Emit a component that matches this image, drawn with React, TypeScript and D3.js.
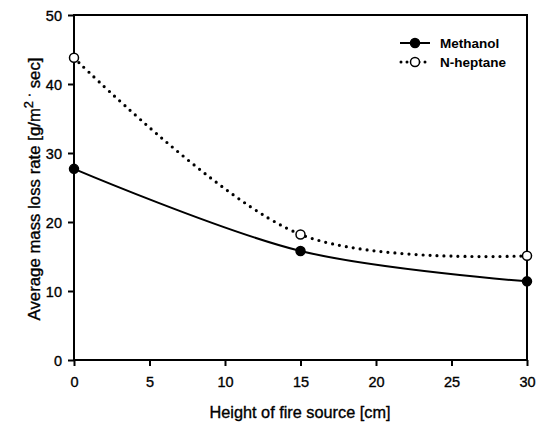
import * as d3 from "d3";
import { useEffect, useRef } from "react";

// data
const heights = [0, 15, 30];
const methanol = [27.7, 15.8, 11.4];
const heptane = [43.8, 18.2, 15.1];
const xTicks = [0, 5, 10, 15, 20, 25, 30];
const yTicks = [0, 10, 20, 30, 40, 50];
const seriesNames = ["Methanol", "N-heptane"];

const App = () => {
  const svgRef = useRef<SVGSVGElement>(null);

  useEffect(() => {
    const w = 541;
    const h = 425;
    const m = { left: 74, right: 527, top: 15, bottom: 360 };
    const font = "'Liberation Sans', Arial, sans-serif";

    const svg = d3.select(svgRef.current).attr("width", w).attr("height", h);
    svg.selectAll("*").remove();
    svg.append("rect").attr("width", w).attr("height", h).attr("fill", "white");

    const x = d3.scaleLinear().domain([0, 30]).range([m.left, m.right]);
    const y = d3.scaleLinear().domain([0, 50]).range([m.bottom, m.top]);

    // axes
    const xAxis = d3.axisBottom(x).tickValues(xTicks).tickSize(6).tickSizeOuter(0);
    const yAxis = d3.axisLeft(y).tickValues(yTicks).tickSize(6).tickSizeOuter(0);

    const gx = svg.append("g").attr("transform", `translate(0, ${m.bottom})`).call(xAxis);
    const gy = svg.append("g").attr("transform", `translate(${m.left}, 0)`).call(yAxis);
    [gx, gy].forEach((g) => {
      g.select(".domain").remove();
      g.selectAll("line").attr("stroke", "#000").attr("stroke-width", 2);
      g.selectAll("text")
        .attr("fill", "#000")
        .attr("stroke", "#000")
        .attr("stroke-width", 0.35)
        .style("font-family", font)
        .style("font-size", "14.5px");
    });
    gx.selectAll("text").attr("y", 27).attr("dy", 0);
    gy.selectAll("text").attr("x", -12).attr("dy", "0.36em");

    // frame
    svg
      .append("rect")
      .attr("x", m.left)
      .attr("y", m.top)
      .attr("width", m.right - m.left)
      .attr("height", m.bottom - m.top)
      .attr("fill", "none")
      .attr("stroke", "#000")
      .attr("stroke-width", 2);

    // axis titles
    svg
      .append("text")
      .attr("x", 300)
      .attr("y", 418)
      .attr("text-anchor", "middle")
      .attr("stroke", "#000")
      .attr("stroke-width", 0.35)
      .style("font-family", font)
      .style("font-size", "16.3px")
      .text("Height of fire source [cm]");

    const yt = svg
      .append("text")
      .attr("transform", `translate(40, 189) rotate(-90)`)
      .attr("text-anchor", "middle")
      .attr("stroke", "#000")
      .attr("stroke-width", 0.35)
      .style("font-family", font)
      .style("font-size", "16.8px");
    yt.append("tspan").text("Average mass loss rate [g/m");
    yt.append("tspan").attr("dy", -7).style("font-size", "13px").text("2 \u00b7");
    yt.append("tspan").attr("dy", 7).text("  sec]");

    const line = d3
      .line<number>()
      .x((d, i) => x(heights[i]))
      .y((d) => y(d))
      .curve(d3.curveCatmullRom.alpha(0.5));

    const series = [
      { name: seriesNames[0], values: methanol, dash: null, fill: "#000" },
      { name: seriesNames[1], values: heptane, dash: "0 7", fill: "#fff" },
    ];

    series.forEach((s) => {
      svg
        .append("path")
        .attr("d", line(s.values))
        .attr("fill", "none")
        .attr("stroke", "#000")
        .attr("stroke-width", s.dash ? 3.2 : 2)
        .attr("stroke-linecap", "round")
        .attr("stroke-dasharray", s.dash);
      svg
        .selectAll(null)
        .data(s.values)
        .join("circle")
        .attr("cx", (d, i) => x(heights[i]))
        .attr("cy", (d) => y(d))
        .attr("r", 4.5)
        .attr("fill", s.fill)
        .attr("stroke", "#000")
        .attr("stroke-width", 1.5);
    });

    // legend
    const lg = svg.append("g").attr("transform", "translate(400, 43)");
    series.forEach((s, i) => {
      const row = lg.append("g").attr("transform", `translate(0, ${i * 19})`);
      row
        .append("line")
        .attr("x1", s.dash ? 1 : 0)
        .attr("x2", 30)
        .attr("stroke", "#000")
        .attr("stroke-width", s.dash ? 3 : 2)
        .attr("stroke-linecap", s.dash ? "round" : "butt")
        .attr("stroke-dasharray", s.dash ? "0 6" : null);
      row
        .append("circle")
        .attr("cx", 15)
        .attr("r", 4.5)
        .attr("fill", s.fill)
        .attr("stroke", "#000")
        .attr("stroke-width", 1.5);
      row
        .append("text")
        .attr("x", 40)
        .attr("dy", "0.36em")
        .style("font-family", font)
        .style("font-size", "13.5px")
        .style("font-weight", "bold")
        .text(s.name);
    });
  }, []);

  return (
    <svg ref={svgRef} style={{ position: "absolute", left: 0, top: 0 }}></svg>
  );
};

export default App;
